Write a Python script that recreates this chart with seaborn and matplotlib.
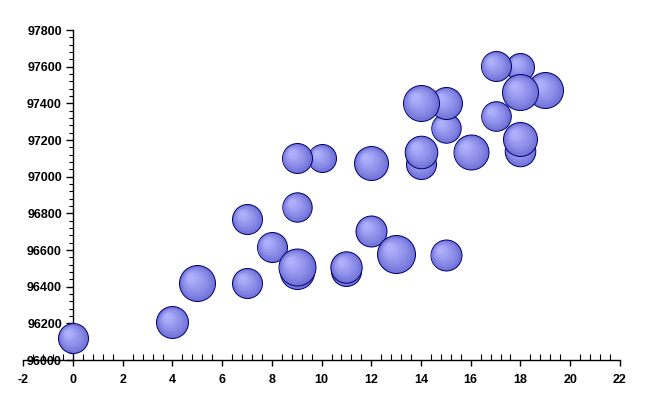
import numpy as np
import matplotlib
matplotlib.use("Agg")
import matplotlib.pyplot as plt
import matplotlib.transforms as mtransforms
from matplotlib.ticker import MultipleLocator
from matplotlib.colors import to_rgb
import seaborn as sns

# bubble data, listed in drawing order (later ones sit on top)
xs = [0, 4, 5, 7, 7, 8, 9, 10, 9, 9, 9, 11, 11, 12, 13, 12,
      14, 14, 15, 15, 15, 14, 16, 17, 18, 18, 18, 17, 19, 18]
ys = [96120, 96207, 96420, 96420, 96769, 96616, 96834, 97102, 97102, 96480, 96507, 96485, 96507, 96704, 96578, 97074,
      97069, 97134, 96573, 97265, 97402, 97402, 97134, 97331, 97140, 97205, 97598, 97604, 97473, 97462]
bubble = [15, 16, 18, 15, 15, 15, 14.7, 14, 15, 17, 18.5, 15, 15.7, 15.5, 19, 17,
          15, 16.3, 15.5, 14.7, 16, 18, 17.5, 14.8, 15.3, 17, 14, 15, 18, 18]

sns.set_style("white")
plt.rcParams['font.family'] = ['Liberation Sans', 'DejaVu Sans']
plt.rcParams['axes.unicode_minus'] = False

fig = plt.figure(figsize=(6.54, 4.15), dpi=100)
ax = fig.add_axes([0.0357, 0.1325, 0.912, 0.795])

rim = np.array(to_rgb('#6e70d6'))
hi = np.array(to_rgb('#b2b4ff'))
nlay = 14

for i, (x, y, b) in enumerate(zip(xs, ys, bubble)):
    r = b * 0.72  # radius in points
    z = 3 + i * 0.05
    sns.scatterplot(x=[x], y=[y], s=(2 * r) ** 2, color='#6e70d6',
                    edgecolor='#000070', linewidth=0.7, zorder=z,
                    clip_on=False, legend=False, ax=ax)
    for k in range(1, nlay):
        f = k / nlay
        rr = r * (1 - 0.85 * f) - 0.3
        off = r * 0.38 * f
        tr = mtransforms.offset_copy(ax.transData, fig=fig, x=-off, y=off, units='points')
        c = rim + (hi - rim) * f ** 0.8
        ax.scatter([x], [y], s=(2 * rr) ** 2, color=c, linewidths=0,
                   transform=tr, zorder=z + 0.001 * k, clip_on=False)

ax.set_xlim(-2, 22)
ax.set_ylim(96000, 97800)
ax.set_xticks(range(-2, 23, 2))
ax.set_yticks(range(96000, 97801, 200))
ax.xaxis.set_minor_locator(MultipleLocator(0.4))
ax.yaxis.set_minor_locator(MultipleLocator(40))

for s in ['top', 'right']:
    ax.spines[s].set_visible(False)
ax.spines['left'].set_position(('data', 0))
ax.spines['bottom'].set_position(('data', 96000))
for s in ['left', 'bottom']:
    ax.spines[s].set_color('black')
    ax.spines[s].set_linewidth(1)
    ax.spines[s].set_zorder(2)

ax.tick_params(axis='y', which='major', direction='out', length=5, width=1,
               color='black', labelcolor='black', pad=3, left=True)
ax.tick_params(axis='y', which='minor', direction='out', length=3, width=0.8,
               color='black', left=True)
ax.tick_params(axis='x', which='major', direction='out', length=4, width=1,
               color='black', labelcolor='black', pad=6, bottom=True)
ax.tick_params(axis='x', which='minor', direction='in', length=4, width=0.8,
               color='black', bottom=True)

for lab in ax.get_xticklabels() + ax.get_yticklabels():
    lab.set_fontweight('bold')
    lab.set_fontsize(9)

ax.set_xlabel('')
ax.set_ylabel('')
fig.savefig('out.png', dpi=100)
